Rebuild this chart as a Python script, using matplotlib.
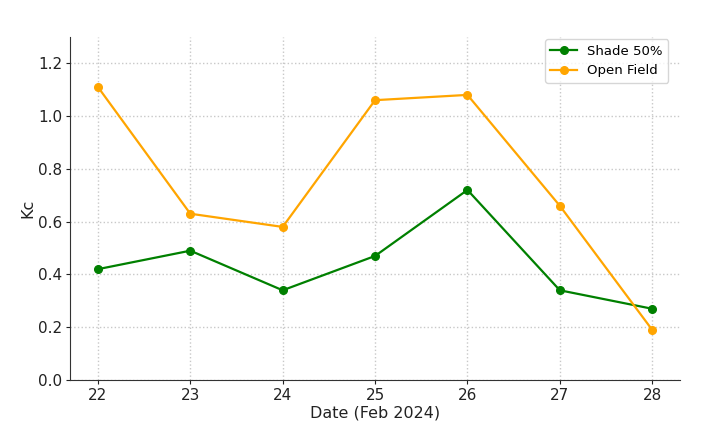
import matplotlib.pyplot as plt

dates = [22, 23, 24, 25, 26, 27, 28]
shade_50 = [0.42, 0.49, 0.34, 0.47, 0.72, 0.34, 0.27]
open_field = [1.11, 0.63, 0.58, 1.06, 1.08, 0.66, 0.19]

fig = plt.figure(figsize=(7.09, 4.28), dpi=100)
ax = fig.add_axes([0.099, 0.112, 0.86, 0.802])

ax.plot(dates, shade_50, marker='o', color='green', label='Shade 50%', linewidth=1.6, markersize=5.5)
ax.plot(dates, open_field, marker='o', color='orange', label='Open Field', linewidth=1.6, markersize=5.5)

ax.set_xlim(21.7, 28.3)
ax.set_ylim(0, 1.3)
ax.set_xticks(dates)
ax.set_yticks([0.0, 0.2, 0.4, 0.6, 0.8, 1.0, 1.2])
ax.set_xlabel("Date (Feb 2024)", fontsize=11.5, color='#222222', labelpad=2)
ax.set_ylabel("Kc", fontsize=11.5, color='#222222', labelpad=2)
ax.tick_params(labelsize=11, colors='#222222', length=3, pad=2.5)
ax.grid(True, linestyle=':', color='#c8c8c8', linewidth=1)
ax.spines['top'].set_visible(False)
ax.spines['right'].set_visible(False)
for s in ('left', 'bottom'):
    ax.spines[s].set_color('#333333')
ax.legend(loc='upper right', fontsize=9.5, bbox_to_anchor=(0.985, 1.0),
          borderaxespad=0.2, handlelength=2.0)

fig.savefig("out.png")
